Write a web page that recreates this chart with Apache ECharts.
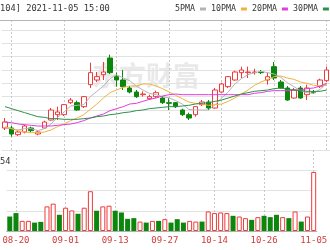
<!DOCTYPE html>
<html>
<head>
<meta charset="utf-8">
<script src="https://cdn.jsdelivr.net/npm/echarts@6/dist/echarts.min.js"></script>
<style>
html, body { margin: 0; padding: 0; background: #fff; }
#kline { width: 330px; height: 250px; }
</style>
</head>
<body>
<div id="kline"></div>
<script>
// trading days shown (left and right ends are cut off in the picture)
const dates = ['08-19','08-20','08-23','08-24','08-25','08-26','08-27','08-30','08-31','09-01',
  '09-02','09-03','09-06','09-07','09-08','09-09','09-10','09-13','09-14','09-15',
  '09-16','09-17','09-22','09-23','09-24','09-27','09-28','09-29','09-30','10-08',
  '10-11','10-12','10-13','10-14','10-15','10-18','10-19','10-20','10-21','10-22',
  '10-25','10-26','10-27','10-28','10-29','11-01','11-02','11-03','11-04','11-05']

// [open, close, low, high]
const candles = [
  [19.33,19.42,19.30,19.48],[19.33,19.24,19.20,19.36],[19.23,19.27,19.21,19.29],[19.27,19.36,19.25,19.38],
  [19.33,19.29,19.27,19.35],[19.24,19.27,19.22,19.29],[19.33,19.42,19.32,19.44],[19.45,19.60,19.44,19.63],
  [19.53,19.57,19.45,19.65],[19.53,19.68,19.51,19.69],[19.71,19.75,19.69,19.78],[19.71,19.60,19.59,19.74],
  [19.65,19.80,19.63,19.81],[19.98,20.16,19.93,20.31],[20.05,20.10,20.02,20.17],[20.13,20.17,20.05,20.32],
  [20.38,20.16,20.14,20.43],[20.10,20.05,19.95,20.16],[20.05,19.95,19.90,20.20],[19.93,19.87,19.85,19.96],
  [19.87,19.80,19.78,19.90],[19.83,19.84,19.80,19.88],[19.77,19.80,19.75,19.83],[19.80,19.86,19.78,19.89],
  [19.78,19.71,19.69,19.81],[19.71,19.70,19.60,19.78],[19.71,19.65,19.63,19.72],[19.60,19.53,19.51,19.62],
  [19.53,19.48,19.45,19.56],[19.53,19.65,19.50,19.66],[19.68,19.72,19.66,19.75],[19.72,19.63,19.60,19.75],
  [19.63,19.90,19.62,19.93],[19.87,19.99,19.86,20.01],[19.95,20.10,19.93,20.11],[20.05,20.17,20.04,20.19],
  [20.16,20.20,20.08,20.25],[20.16,20.17,20.08,20.25],[20.16,20.17,20.13,20.22],[20.17,20.16,20.14,20.20],
  [20.05,20.10,19.98,20.16],[20.25,20.08,20.05,20.32],[20.02,19.93,19.92,20.05],[19.93,19.75,19.74,19.96],
  [19.78,19.90,19.77,19.93],[19.93,19.78,19.77,19.96],[19.83,19.93,19.75,19.98],[19.87,19.86,19.84,19.90],
  [19.95,20.05,19.93,20.07],[20.04,20.20,20.02,20.25]
]

const ma5 = [19.33,19.32,19.30,19.32,19.32,19.29,19.32,19.39,19.49,19.57,
  19.66,19.67,19.68,19.80,19.88,19.96,20.07,20.13,20.08,20.04,
  19.96,19.90,19.85,19.83,19.80,19.78,19.74,19.69,19.61,19.60,
  19.60,19.60,19.68,19.78,19.87,19.99,20.07,20.13,20.16,20.18,
  20.16,20.14,20.09,20.01,19.95,19.89,19.86,19.85,19.91,20.00]
const ma10 = [19.35,19.32,19.29,19.27,19.26,19.26,19.27,19.30,19.35,19.39,
  19.44,19.48,19.53,19.61,19.69,19.78,19.86,19.90,19.94,19.96,
  19.96,19.99,19.99,19.96,19.92,19.87,19.82,19.77,19.72,19.70,
  19.69,19.67,19.68,19.69,19.73,19.78,19.84,19.90,19.97,20.02,
  20.06,20.10,20.11,20.08,20.06,20.02,20.00,19.97,19.96,19.97]
const ma20 = [19.42,19.41,19.39,19.38,19.37,19.36,19.36,19.36,19.37,19.38,
  19.39,19.41,19.44,19.48,19.51,19.54,19.59,19.62,19.65,19.69,
  19.70,19.73,19.76,19.78,19.81,19.83,19.84,19.83,19.83,19.83,
  19.83,19.83,19.83,19.83,19.83,19.83,19.83,19.83,19.85,19.86,
  19.88,19.89,19.89,19.89,19.90,19.90,19.92,19.93,19.96,20.00]
const ma30 = [19.65,19.62,19.59,19.56,19.53,19.50,19.49,19.47,19.47,19.46,
  19.46,19.46,19.47,19.48,19.50,19.51,19.53,19.54,19.56,19.57,
  19.59,19.60,19.62,19.63,19.64,19.65,19.65,19.66,19.67,19.69,
  19.70,19.71,19.73,19.75,19.78,19.81,19.84,19.86,19.88,19.89,
  19.90,19.92,19.93,19.91,19.90,19.89,19.88,19.88,19.88,19.90]

const volumes = [14.3,17.7,10,10,8.3,9,24.3,27,16,23,
  20.3,17,23,39.3,20,24.3,25,20,18.3,12,
  12.7,9.3,8.3,10,10,11.7,8.3,11.7,8.3,10,
  9.3,9.3,19.3,17.7,18.3,17.7,15,14.3,12.7,11,
  13.7,15,13.7,16,13.7,12.7,19.3,9.3,14.3,58.3]
// 1 = up day (red hollow bar), -1 = down day (green bar)
const volDir = [-1,-1,1,1,-1,-1,1,1,-1,1,
  1,-1,1,1,-1,1,1,-1,-1,-1,
  -1,1,-1,1,-1,1,-1,-1,-1,1,
  1,-1,1,1,1,1,-1,1,1,-1,
  1,-1,-1,-1,1,-1,1,-1,1,1]

const maNames = ['5PMA', '10PMA', '20PMA', '30PMA']
const maColors = ['#b4b4b4', '#f0b23c', '#e03ce0', '#2f8f4f']
const upColor = '#ef3b3b'
const downColor = '#0c860c'
const mono = 'DejaVu Sans Mono'

// a date label and a dashed line every 8 trading days
const every8 = (idx) => (idx - 1) % 8 === 0

const chart = echarts.init(document.getElementById('kline'))

const dashed = {
  show: true,
  interval: every8,
  alignWithLabel: true,
  lineStyle: { color: '#c8c8c8', type: [2, 2], width: 1 }
}

chart.setOption({
  animation: false,
  textStyle: { fontFamily: mono },
  legend: {
    data: maNames,
    left: 175,
    top: 5,
    width: 200,
    padding: 0,
    align: 'right',
    icon: 'rect',
    itemWidth: 6,
    itemHeight: 3,
    itemGap: 5,
    selectedMode: false,
    textStyle: { fontSize: 8.3, color: '#333', fontFamily: mono }
  },
  graphic: [
    {
      type: 'text', left: 0, top: 4, z: 5,
      style: { text: '104] 2021-11-05 15:00', font: '8.7px "DejaVu Sans Mono"', fill: '#333' }
    },
    {
      type: 'text', left: 0, top: 157, z: 5,
      style: { text: '54', font: '8.7px "DejaVu Sans Mono"', fill: '#333' }
    },
    {
      type: 'line', z: 5,
      shape: { x1: 0, y1: 20.5, x2: 330, y2: 20.5 },
      style: { stroke: '#b5b5b5', lineWidth: 1 }
    },
    {
      // faint watermark
      type: 'text', left: 92, top: 62, z: 0,
      style: { text: '东方财富', font: 'bold 27px "Noto Sans CJK SC"', fill: '#e9e9e9' }
    }
  ],
  grid: [
    { left: 1.7, right: -4.2, top: 20, height: 130 },
    { left: 1.7, right: -4.2, top: 150, height: 81 }
  ],
  xAxis: [
    {
      type: 'category', gridIndex: 0, data: dates,
      axisLine: { show: false }, axisTick: { show: false }, axisLabel: { show: false },
      splitLine: dashed
    },
    {
      type: 'category', gridIndex: 1, data: dates,
      axisLine: { lineStyle: { color: '#b0b0b0' } },
      axisTick: { show: false },
      axisLabel: { interval: every8, color: '#d23c3c', fontSize: 9, margin: 5, fontFamily: mono },
      splitLine: dashed
    }
  ],
  yAxis: [
    {
      type: 'value', gridIndex: 0, min: 19.0, max: 20.95, interval: 0.2,
      axisLine: { show: false }, axisTick: { show: false }, axisLabel: { show: false },
      splitLine: { lineStyle: { color: '#e2e2e2' } }
    },
    {
      type: 'value', gridIndex: 1, min: 0, max: 80, interval: 20,
      axisLine: { show: false }, axisTick: { show: false }, axisLabel: { show: false },
      splitLine: { lineStyle: { color: '#e2e2e2' } }
    }
  ],
  series: [
    {
      type: 'candlestick', name: 'K', xAxisIndex: 0, yAxisIndex: 0,
      data: candles, barWidth: 5, clip: false,
      itemStyle: {
        color: '#fff', color0: downColor,
        borderColor: upColor, borderColor0: downColor, borderWidth: 1
      }
    },
    ...[ma5, ma10, ma20, ma30].map((vals, i) => ({
      type: 'line', name: maNames[i], xAxisIndex: 0, yAxisIndex: 0,
      data: vals, symbol: 'none', z: 3,
      itemStyle: { color: maColors[i] },
      lineStyle: { color: maColors[i], width: 1 }
    })),
    {
      type: 'bar', name: 'VOL', xAxisIndex: 1, yAxisIndex: 1, barWidth: 5,
      data: volumes.map((v, i) => ({
        value: v,
        itemStyle: volDir[i] > 0
          ? { color: '#fff', borderColor: upColor, borderWidth: 1 }
          : { color: downColor }
      }))
    }
  ]
})
</script>
</body>
</html>
